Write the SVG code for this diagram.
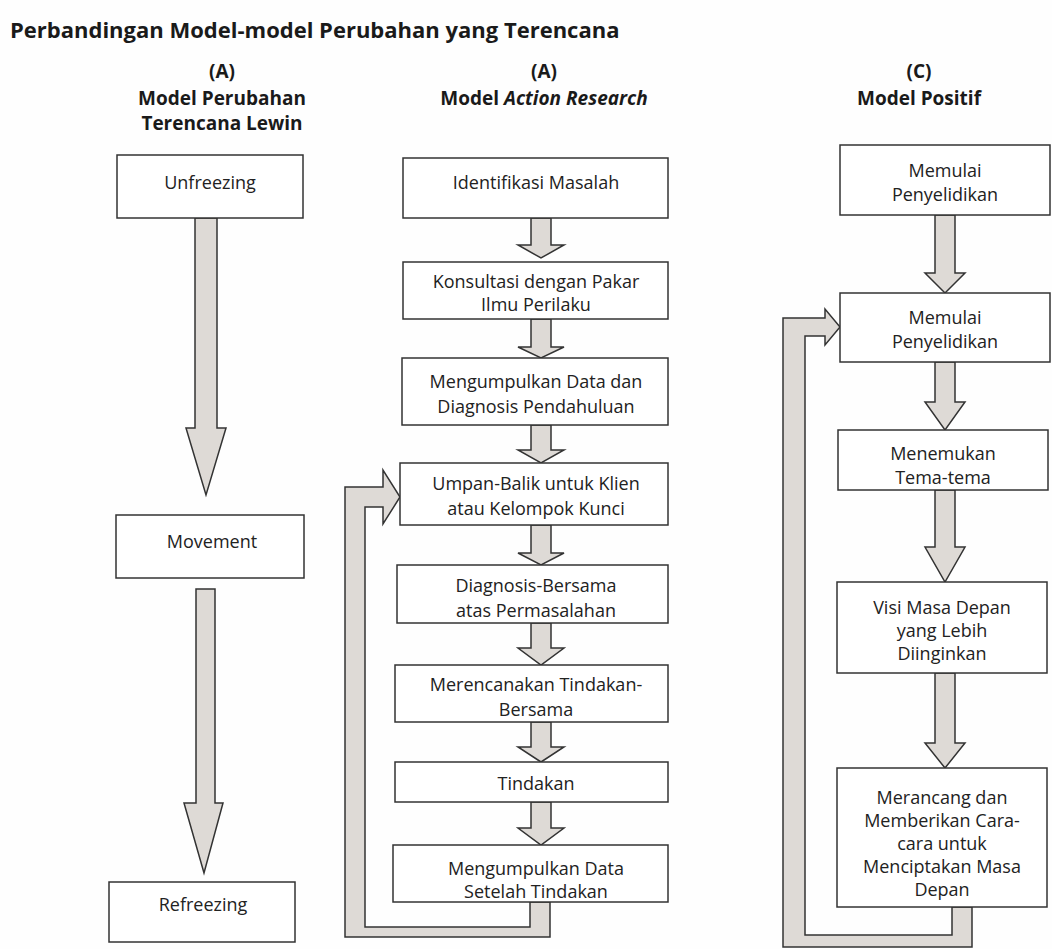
<svg xmlns="http://www.w3.org/2000/svg" width="1052" height="949" viewBox="0 0 1052 949">
<style>
.bg{fill:#fefefe}
.box{fill:#ffffff;stroke:#333;stroke-width:1.5}
.arr{fill:#dedad6;stroke:#333;stroke-width:1.5;stroke-linejoin:miter}
.t{font-family:"Open Sans","Liberation Sans",sans-serif;font-size:18px;fill:#222;text-anchor:middle}
.h{font-family:"Open Sans","Liberation Sans",sans-serif;font-size:19px;font-weight:bold;fill:#1a1a1a;text-anchor:middle}
.title{font-family:"Open Sans","Liberation Sans",sans-serif;font-size:22px;font-weight:bold;fill:#1a1a1a}
</style>
<rect class="bg" x="0" y="0" width="1052" height="949"/>
<text class="title" x="10" y="38">Perbandingan Model-model Perubahan yang Terencana</text>
<g id="header-lewin">
<text class="h" x="222" y="78">(A)</text>
<text class="h" x="222" y="105">Model Perubahan</text>
<text class="h" x="222" y="130">Terencana Lewin</text>
</g>
<g id="header-action">
<text class="h" x="544" y="78">(A)</text>
<text class="h" x="544" y="105">Model <tspan font-style="italic">Action Research</tspan></text>
</g>
<g id="header-positif">
<text class="h" x="919" y="78">(C)</text>
<text class="h" x="919" y="105">Model Positif</text>
</g>
<g id="connectors">
<polygon class="arr" points="195,218 217,218 217,428 226,428 206,495 186,428 195,428"/>
<polygon class="arr" points="196,589 215,589 215,803 223,803 204,873 184,803 196,803"/>
<polygon class="arr" points="531,218 551,218 551,245 564,245 541,258 518,245 531,245"/>
<polygon class="arr" points="531,319 551,319 551,347 564,347 541,358 518,347 531,347"/>
<polygon class="arr" points="531,425 551,425 551,450 564,450 541,463 518,450 531,450"/>
<polygon class="arr" points="531,525 551,525 551,553 564,553 541,565 518,553 531,553"/>
<polygon class="arr" points="531,623 551,623 551,648 564,648 541,665 518,648 531,648"/>
<polygon class="arr" points="531,722 551,722 551,747 564,747 541,762 518,747 531,747"/>
<polygon class="arr" points="531,802 551,802 551,828 564,828 541,845 518,828 531,828"/>
<polygon class="arr" points="550,902 550,937 345,937 345,487 383,487 383,470 400,497 383,524 383,507 365,507 365,927 530,927 530,902"/>
<polygon class="arr" points="935,215 955,215 955,273 965,273 945,293 925,273 935,273"/>
<polygon class="arr" points="935,362 955,362 955,402 965,402 945,430 925,402 935,402"/>
<polygon class="arr" points="935,490 955,490 955,547 965,547 945,582 925,547 935,547"/>
<polygon class="arr" points="935,673 955,673 955,743 965,743 945,768 925,743 935,743"/>
<polygon class="arr" points="972,907 972,947 783,947 783,318 825,318 825,309 840,327 825,345 825,336 805,336 805,935 952,935 952,907"/>
</g>
<g id="unfreezing"><rect class="box" x="117" y="155" width="186" height="63"/><text class="t" x="210" y="189">Unfreezing</text></g>
<g id="movement"><rect class="box" x="116" y="515" width="188" height="63"/><text class="t" x="212" y="548">Movement</text></g>
<g id="refreezing"><rect class="box" x="109" y="882" width="186" height="60"/><text class="t" x="203" y="911">Refreezing</text></g>
<g id="ar1"><rect class="box" x="403" y="158" width="265" height="60"/><text class="t" x="536" y="189">Identifikasi Masalah</text></g>
<g id="ar2"><rect class="box" x="403" y="262" width="265" height="57"/><text class="t" x="536" y="288">Konsultasi dengan Pakar</text><text class="t" x="536" y="311">Ilmu Perilaku</text></g>
<g id="ar3"><rect class="box" x="402" y="358" width="266" height="67"/><text class="t" x="536" y="388">Mengumpulkan Data dan</text><text class="t" x="536" y="413">Diagnosis Pendahuluan</text></g>
<g id="ar4"><rect class="box" x="400" y="463" width="268" height="62"/><text class="t" x="536" y="490">Umpan-Balik untuk Klien</text><text class="t" x="536" y="515">atau Kelompok Kunci</text></g>
<g id="ar5"><rect class="box" x="397" y="565" width="271" height="58"/><text class="t" x="536" y="592">Diagnosis-Bersama</text><text class="t" x="536" y="617">atas Permasalahan</text></g>
<g id="ar6"><rect class="box" x="395" y="665" width="273" height="57"/><text class="t" x="536" y="691">Merencanakan Tindakan-</text><text class="t" x="536" y="716">Bersama</text></g>
<g id="ar7"><rect class="box" x="395" y="762" width="273" height="40"/><text class="t" x="536" y="790">Tindakan</text></g>
<g id="ar8"><rect class="box" x="393" y="845" width="275" height="57"/><text class="t" x="536" y="875">Mengumpulkan Data</text><text class="t" x="536" y="898">Setelah Tindakan</text></g>
<g id="p1"><rect class="box" x="840" y="145" width="210" height="70"/><text class="t" x="945" y="177">Memulai</text><text class="t" x="945" y="201">Penyelidikan</text></g>
<g id="p2"><rect class="box" x="840" y="293" width="210" height="69"/><text class="t" x="945" y="324">Memulai</text><text class="t" x="945" y="348">Penyelidikan</text></g>
<g id="p3"><rect class="box" x="838" y="430" width="210" height="60"/><text class="t" x="943" y="460">Menemukan</text><text class="t" x="943" y="484">Tema-tema</text></g>
<g id="p4"><rect class="box" x="837" y="582" width="210" height="91"/><text class="t" x="942" y="614">Visi Masa Depan</text><text class="t" x="942" y="637">yang Lebih</text><text class="t" x="942" y="660">Diinginkan</text></g>
<g id="p5"><rect class="box" x="837" y="768" width="210" height="139"/><text class="t" x="942" y="804">Merancang dan</text><text class="t" x="942" y="827">Memberikan Cara-</text><text class="t" x="942" y="850">cara untuk</text><text class="t" x="942" y="873">Menciptakan Masa</text><text class="t" x="942" y="896">Depan</text></g>
</svg>
